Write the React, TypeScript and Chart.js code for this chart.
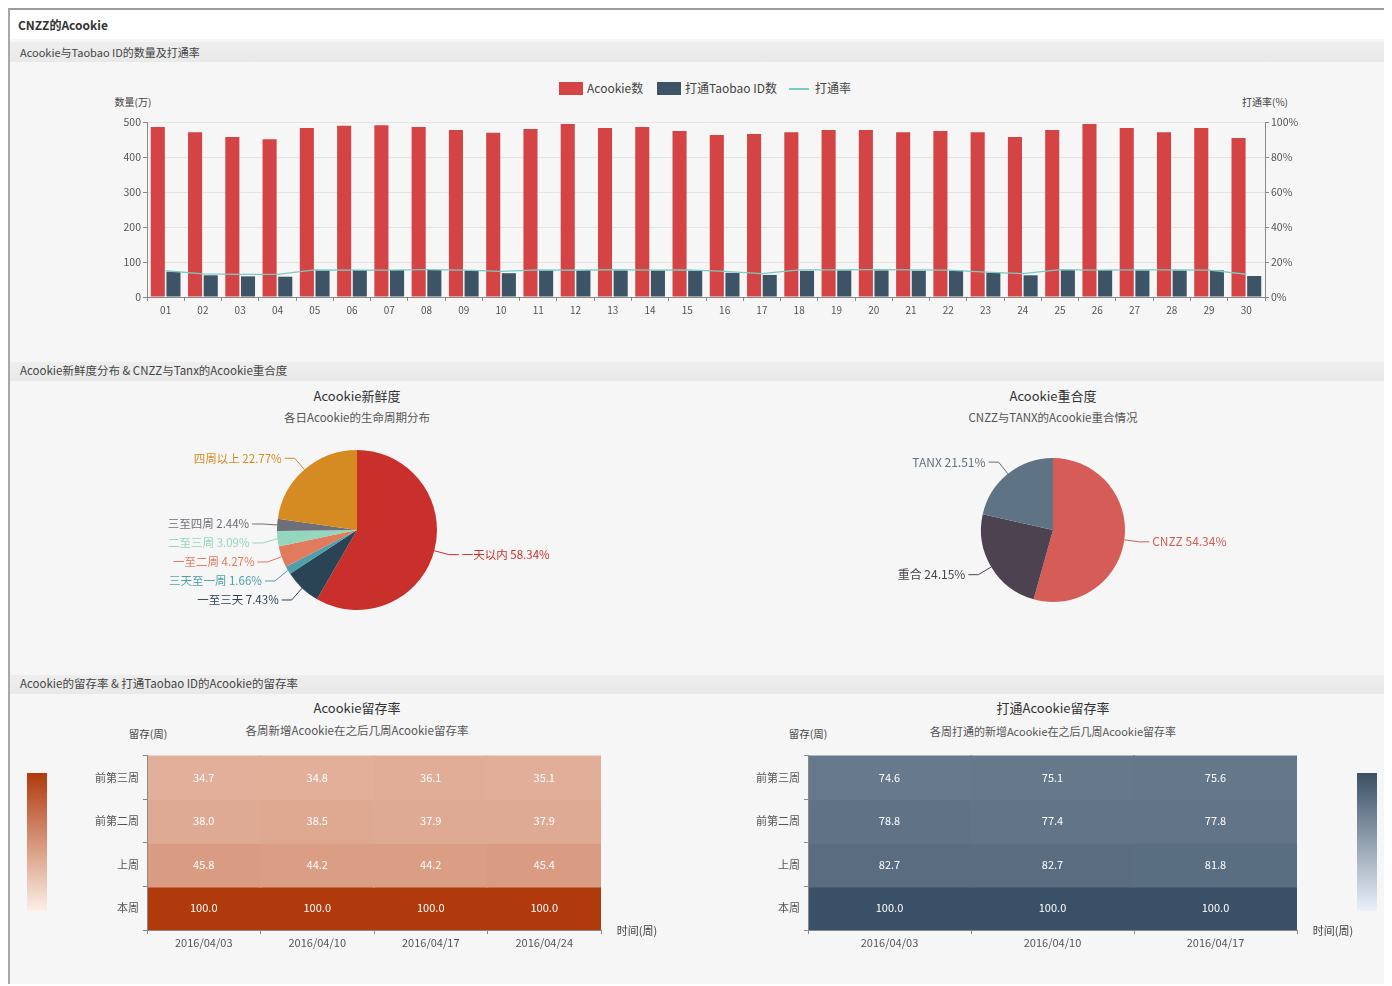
import React, { useEffect, useRef } from "react";
import { Chart, registerables } from "chart.js";
Chart.register(...registerables);

const FONT = '"Noto Sans CJK SC", "Noto Sans", sans-serif';
const OX = 10; // page offset of container content box (body margin 8 + border 2)
const OY = 10;

// ---------- data ----------
const days = ["01","02","03","04","05","06","07","08","09","10","11","12","13","14","15","16","17","18","19","20","21","22","23","24","25","26","27","28","29","30"];
const acookieCounts = [486,471,457,451,483,489,491,486,477,469,480,494,483,486,474,463,466,471,477,477,471,474,471,457,477,494,483,471,483,454];
const linkedCounts = [72,62,59,58,76,77,77,77,75,68,76,77,76,76,75,69,63,75,76,76,75,75,69,62,77,77,76,76,76,60];
const linkRates = [15.0,13.2,12.9,12.9,15.5,15.4,15.4,15.6,15.4,14.6,15.5,15.3,15.6,15.4,15.5,14.6,13.4,15.5,15.5,15.6,15.5,15.4,14.2,13.4,15.6,15.4,15.5,15.5,15.4,13.0];

const freshnessLabels = ["一天以内","一至三天","三天至一周","一至二周","二至三周","三至四周","四周以上"];
const freshnessValues = [58.34,7.43,1.66,4.27,3.09,2.44,22.77];
const freshnessColors = ["#c9302c","#2b4455","#4e9fab","#e27a5e","#94d6be","#6e6f78","#d68b22"];

const overlapLabels = ["CNZZ","重合","TANX"];
const overlapValues = [54.34,24.15,21.51];
const overlapColors = ["#d65c57","#4d4250","#5e7383"];

const retentionRowLabels = ["前第三周","前第二周","上周","本周"];
const acookieWeeks = ["2016/04/03","2016/04/10","2016/04/17","2016/04/24"];
const acookieRow3Ago = [34.7,34.8,36.1,35.1];
const acookieRow2Ago = [38.0,38.5,37.9,37.9];
const acookieRowLast = [45.8,44.2,44.2,45.4];
const acookieRowThis = [100.0,100.0,100.0,100.0];

const linkedWeeks = ["2016/04/03","2016/04/10","2016/04/17"];
const linkedRow3Ago = [74.6,75.1,75.6];
const linkedRow2Ago = [78.8,77.4,77.8];
const linkedRowLast = [82.7,82.7,81.8];
const linkedRowThis = [100.0,100.0,100.0];

// ---------- helpers ----------
const mix = (lo: number[], hi: number[]) => (v: number) => {
  const t = Math.max(0, Math.min(1, v / 100));
  const c = lo.map((l, i) => Math.round(l + (hi[i] - l) * t));
  return `rgb(${c[0]},${c[1]},${c[2]})`;
};
const orangeScale = mix([252, 238, 229], [176, 58, 12]);
const slateScale = mix([236, 243, 251], [58, 80, 102]);

const pieLabelPlugin = {
  id: "pieLabels",
  afterDatasetsDraw(chart: any, _args: any, opts: any) {
    const ctx = chart.ctx;
    const meta = chart.getDatasetMeta(0);
    const ds = chart.data.datasets[0];
    const labels = chart.data.labels;
    const len1 = 15, len2 = 10, gap = 19;
    const items = meta.data.map((arc: any, i: number) => {
      const p = arc.getProps(["x", "y", "startAngle", "endAngle", "outerRadius"], true);
      const mid = (p.startAngle + p.endAngle) / 2;
      const c = Math.cos(mid), s = Math.sin(mid);
      return {
        p0: { x: p.x + c * p.outerRadius, y: p.y + s * p.outerRadius },
        p1: { x: p.x + c * (p.outerRadius + len1), y: p.y + s * (p.outerRadius + len1) },
        right: c >= 0,
        text: `${labels[i]} ${ds.data[i].toFixed(2)}%`,
        color: ds.backgroundColor[i],
      };
    });
    for (const side of [true, false]) {
      const arr = items.filter((it: any) => it.right === side).sort((a: any, b: any) => a.p1.y - b.p1.y);
      for (let k = 1; k < arr.length; k++) {
        if (arr[k].p1.y < arr[k - 1].p1.y + gap) arr[k].p1.y = arr[k - 1].p1.y + gap;
      }
    }
    ctx.save();
    ctx.font = `${opts.size || 11}px ${FONT}`;
    ctx.textBaseline = "middle";
    ctx.lineWidth = 1;
    for (const it of items) {
      const x2 = it.p1.x + (it.right ? len2 : -len2);
      ctx.strokeStyle = it.color;
      ctx.beginPath();
      ctx.moveTo(it.p0.x, it.p0.y);
      ctx.lineTo(it.p1.x, it.p1.y);
      ctx.lineTo(x2, it.p1.y);
      ctx.stroke();
      ctx.fillStyle = it.color;
      ctx.textAlign = it.right ? "left" : "right";
      ctx.fillText(it.text, x2 + (it.right ? 3 : -3), it.p1.y);
    }
    ctx.restore();
  },
};

const cellLabelPlugin = {
  id: "cellLabels",
  afterDatasetsDraw(chart: any) {
    const ctx = chart.ctx;
    ctx.save();
    ctx.font = `11px ${FONT}`;
    ctx.fillStyle = "#ffffff";
    ctx.textAlign = "center";
    ctx.textBaseline = "middle";
    chart.data.datasets.forEach((ds: any, di: number) => {
      const meta = chart.getDatasetMeta(di);
      meta.data.forEach((el: any, j: number) => {
        ctx.fillText(ds.retention[j].toFixed(1), el.x, (el.y + el.base) / 2);
      });
    });
    ctx.restore();
  },
};

function useChart(build: (c: HTMLCanvasElement) => Chart) {
  const ref = useRef<HTMLCanvasElement | null>(null);
  useEffect(() => {
    if (!ref.current) return;
    const ch = build(ref.current);
    return () => ch.destroy();
  }, []);
  return ref;
}

const axisGray = "#8a8a8a";
const tickColor = "#555";

function ComboChart() {
  const ref = useChart((c) =>
    new Chart(c, {
      type: "bar",
      data: {
        labels: days,
        datasets: [
          { label: "Acookie数", data: acookieCounts, backgroundColor: "#d44444", yAxisID: "y", order: 1, categoryPercentage: 0.84, barPercentage: 0.9 } as any,
          { label: "打通Taobao ID数", data: linkedCounts, backgroundColor: "#3d5466", yAxisID: "y", order: 1, categoryPercentage: 0.84, barPercentage: 0.9 } as any,
          { type: "line", label: "打通率", data: linkRates, yAxisID: "y1", borderColor: "#7ccac3", borderWidth: 1.3, pointRadius: 0, tension: 0, order: 0 } as any,
        ],
      },
      options: {
        animation: false,
        responsive: false,
        maintainAspectRatio: false,
        layout: { padding: { top: 56, bottom: 0, left: 0, right: 0 } },
        plugins: { legend: { display: false }, tooltip: { enabled: false } },
        scales: {
          x: {
            grid: { display: true, drawOnChartArea: false, offset: true, tickLength: 4, color: axisGray },
            border: { color: axisGray },
            ticks: { font: { family: FONT, size: 10 }, color: tickColor, padding: 3, maxRotation: 0, autoSkip: false },
            afterFit: (s: any) => { s.height = 35; },
          },
          y: {
            position: "left",
            min: 0, max: 500,
            ticks: { stepSize: 100, font: { family: FONT, size: 10.5 }, color: tickColor, padding: 2 },
            grid: { color: "#e4e4e4", tickLength: 4, tickColor: axisGray },
            border: { color: axisGray },
            afterFit: (s: any) => { s.width = 137; },
          },
          y1: {
            position: "right",
            min: 0, max: 100,
            ticks: { stepSize: 20, font: { family: FONT, size: 10.5 }, color: tickColor, padding: 2, callback: (v: any) => v + "%" },
            grid: { drawOnChartArea: false, tickLength: 4, color: axisGray },
            border: { color: axisGray },
            afterFit: (s: any) => { s.width = 125; },
          },
        },
      },
    })
  );
  return <canvas ref={ref} width={1380} height={266} style={{ position: "absolute", left: 10 - OX, top: 66 - OY }} />;
}

function PieChart(props: { labels: string[]; values: number[]; colors: string[]; left: number; pad: number; labelSize: number }) {
  const ref = useChart((c) =>
    new Chart(c, {
      type: "pie",
      data: { labels: props.labels, datasets: [{ data: props.values, backgroundColor: props.colors, borderWidth: 0 }] },
      options: {
        animation: false,
        responsive: false,
        layout: { padding: { top: props.pad, bottom: props.pad } },
        plugins: { legend: { display: false }, tooltip: { enabled: false }, pieLabels: { size: props.labelSize } } as any,
      },
      plugins: [pieLabelPlugin],
    })
  );
  return <canvas ref={ref} width={600} height={200} style={{ position: "absolute", left: props.left - OX, top: 430 - OY }} />;
}

function HeatMap(props: { weeks: string[]; rows: number[][]; scale: (v: number) => string; left: number; width: number; axisW: number; padR: number }) {
  const n = props.rows.length;
  const ref = useChart((c) =>
    new Chart(c, {
      type: "bar",
      data: {
        labels: props.weeks,
        datasets: props.rows.map((vals, r) => ({
          data: vals.map(() => [n - 1 - r, n - r]),
          retention: vals,
          backgroundColor: vals.map(props.scale),
          borderWidth: 0,
          borderSkipped: false,
          inflateAmount: 1,
          grouped: false,
          barPercentage: 1,
          categoryPercentage: 1,
          yAxisID: "yv",
        })) as any,
      },
      options: {
        animation: false,
        responsive: false,
        layout: { padding: { top: 10, right: props.padR } },
        plugins: { legend: { display: false }, tooltip: { enabled: false } },
        scales: {
          x: {
            grid: { display: true, drawOnChartArea: false, offset: true, tickLength: 4, color: axisGray },
            border: { color: axisGray, z: 1 },
            ticks: { font: { family: FONT, size: 11 }, color: tickColor, padding: 2, maxRotation: 0 },
            afterFit: (s: any) => { s.height = 30; },
          },
          y: {
            type: "category",
            labels: retentionRowLabels,
            offset: true,
            position: "left",
            grid: { display: true, drawOnChartArea: false, offset: true, tickLength: 4, color: axisGray },
            border: { color: axisGray, z: 1 },
            ticks: { font: { family: FONT, size: 11 }, color: tickColor, padding: 4 },
            afterFit: (s: any) => { s.width = props.axisW; },
          },
          yv: { type: "linear", min: 0, max: n, display: false },
        } as any,
      },
      plugins: [cellLabelPlugin],
    })
  );
  return <canvas ref={ref} width={props.width} height={215} style={{ position: "absolute", left: props.left - OX, top: 745 - OY }} />;
}

function Txt(p: { x: number; y: number; align?: "left" | "center" | "right"; size?: number; color?: string; bold?: boolean; children: any }) {
  const size = p.size ?? 10;
  const align = p.align ?? "left";
  const w = 600;
  const left = align === "left" ? p.x : align === "center" ? p.x - w / 2 : p.x - w;
  return (
    <div
      style={{
        position: "absolute",
        left: left - OX,
        top: p.y - OY - size * 0.75,
        width: w,
        lineHeight: `${size * 1.5}px`,
        fontSize: size,
        fontFamily: FONT,
        color: p.color ?? "#333",
        fontWeight: p.bold ? 700 : 400,
        textAlign: align,
        whiteSpace: "nowrap",
      }}
    >
      {p.children}
    </div>
  );
}

function Band(p: { y: number; h: number; bg: string }) {
  return <div style={{ position: "absolute", left: 0, top: p.y - OY, width: 1382, height: p.h, background: p.bg }} />;
}

function Box(p: { x: number; y: number; w: number; h: number; bg: string }) {
  return <div style={{ position: "absolute", left: p.x - OX, top: p.y - OY, width: p.w, height: p.h, background: p.bg }} />;
}

export default function App() {
  return (
    <div
      style={{
        position: "relative",
        width: 1384,
        height: 976,
        background: "#f6f6f6",
        borderTop: "2px solid #9c9c9c",
        borderLeft: "2px solid #a8a8a8",
        boxSizing: "border-box",
        overflow: "hidden",
        fontFamily: FONT,
      }}
    >
      <Band y={10} h={29} bg="#ffffff" />
      <Txt x={18} y={25} size={12} bold color="#333">CNZZ的Acookie</Txt>

      <Band y={42} h={20} bg="linear-gradient(#eeeeee,#e9e9e9)" />
      <Txt x={20} y={52} size={11} color="#444">Acookie与Taobao ID的数量及打通率</Txt>

      {/* legend */}
      <Box x={559} y={82} w={24} h={13} bg="#d44444" />
      <Txt x={587} y={88} size={12} color="#444">Acookie数</Txt>
      <Box x={657} y={82} w={24} h={13} bg="#3d5466" />
      <Txt x={685} y={88} size={12} color="#444">打通Taobao ID数</Txt>
      <Box x={789} y={88} w={20} h={1.5} bg="#7ccac3" />
      <Txt x={815} y={88} size={12} color="#444">打通率</Txt>

      <Txt x={133} y={101} size={10} align="center" color="#444">数量(万)</Txt>
      <Txt x={1265} y={101} size={10} align="center" color="#444">打通率(%)</Txt>
      <ComboChart />

      <Band y={362} h={19} bg="linear-gradient(#eeeeee,#e9e9e9)" />
      <Txt x={20} y={371} size={11.5} color="#444">Acookie新鲜度分布 & CNZZ与Tanx的Acookie重合度</Txt>

      <Txt x={357} y={396} size={13} align="center" color="#333">Acookie新鲜度</Txt>
      <Txt x={357} y={418} size={11.5} align="center" color="#555">各日Acookie的生命周期分布</Txt>
      <PieChart labels={freshnessLabels} values={freshnessValues} colors={freshnessColors} left={57} pad={20} labelSize={11.5} />

      <Txt x={1053} y={396} size={13} align="center" color="#333">Acookie重合度</Txt>
      <Txt x={1053} y={418} size={11.5} align="center" color="#555">CNZZ与TANX的Acookie重合情况</Txt>
      <PieChart labels={overlapLabels} values={overlapValues} colors={overlapColors} left={753} pad={28} labelSize={12} />

      <Band y={675} h={19} bg="linear-gradient(#eeeeee,#e9e9e9)" />
      <Txt x={20} y={684} size={11.5} color="#444">Acookie的留存率 & 打通Taobao ID的Acookie的留存率</Txt>

      <Txt x={357} y={708} size={13} align="center" color="#333">Acookie留存率</Txt>
      <Txt x={357} y={731} size={11.5} align="center" color="#555">各周新增Acookie在之后几周Acookie留存率</Txt>
      <Txt x={148} y={734} size={10.5} align="center" color="#444">留存(周)</Txt>
      <Box x={27} y={773} w={20} h={138} bg="linear-gradient(#b03a0c, #fcefe7)" />
      <HeatMap weeks={acookieWeeks} rows={[acookieRow3Ago, acookieRow2Ago, acookieRowLast, acookieRowThis]} scale={orangeScale} left={20} width={660} axisW={127} padR={79} />
      <Txt x={637} y={930} size={11} align="center" color="#444">时间(周)</Txt>

      <Txt x={1053} y={708} size={13} align="center" color="#333">打通Acookie留存率</Txt>
      <Txt x={1053} y={731} size={11} align="center" color="#555">各周打通的新增Acookie在之后几周Acookie留存率</Txt>
      <Txt x={808} y={734} size={10.5} align="center" color="#444">留存(周)</Txt>
      <Box x={1357} y={773} w={20} h={138} bg="linear-gradient(#3a5064, #eaf1fa)" />
      <HeatMap weeks={linkedWeeks} rows={[linkedRow3Ago, linkedRow2Ago, linkedRowLast, linkedRowThis]} scale={slateScale} left={700} width={640} axisW={108} padR={43} />
      <Txt x={1333} y={930} size={11} align="center" color="#444">时间(周)</Txt>
    </div>
  );
}
